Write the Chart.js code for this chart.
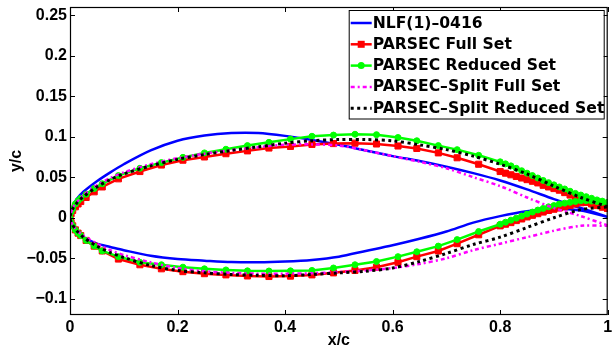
<!DOCTYPE html>
<html>
<head>
<meta charset="utf-8">
<script src="https://cdn.jsdelivr.net/npm/chart.js@4.4.0/dist/chart.umd.min.js"></script>
<style>
html,body{margin:0;padding:0;background:#fff;}
canvas{display:block;}
</style>
</head>
<body>
<canvas id="airfoil" width="613" height="350"></canvas>
<script>
// TICKS
let xTicks = [0, 0.2, 0.4, 0.6, 0.8, 1];
let yTicks = [-0.1, -0.05, 0, 0.05, 0.1, 0.15, 0.2, 0.25];

// LEGEND TEXT
let labels = ['NLF(1)\u20130416', 'PARSEC Full Set', 'PARSEC Reduced Set', 'PARSEC\u2013Split Full Set', 'PARSEC\u2013Split Reduced Set'];

// X STATIONS FOR THE SMOOTH CURVES (NO MARKERS)
let xGrid = [0, 0.005, 0.0125, 0.025, 0.05, 0.075, 0.1, 0.15, 0.2, 0.25, 0.3, 0.35, 0.4, 0.45, 0.5, 0.55, 0.6, 0.65, 0.7, 0.75, 0.8, 0.85, 0.9, 0.95, 1.0];

let nlfUpper = [0, 0.014, 0.023, 0.032, 0.045, 0.056, 0.066, 0.083, 0.095, 0.1015, 0.1045, 0.1045, 0.101, 0.096, 0.090, 0.083, 0.076, 0.070, 0.063, 0.055, 0.046, 0.035, 0.023, 0.012, 0.001];
let nlfLower = [0, -0.010, -0.017, -0.024, -0.032, -0.036, -0.040, -0.047, -0.051, -0.053, -0.0547, -0.055, -0.054, -0.052, -0.048, -0.041, -0.034, -0.026, -0.017, -0.006, 0.002, 0.008, 0.011, 0.009, 0.001];

let splitFullUpper = [0, 0.012, 0.019, 0.028, 0.040, 0.049, 0.056, 0.066, 0.0735, 0.079, 0.0835, 0.087, 0.090, 0.0905, 0.089, 0.083, 0.076, 0.069, 0.061, 0.050, 0.039, 0.025, 0.012, 0.002, -0.0095];
let splitFullLower = [0, -0.009, -0.015, -0.022, -0.032, -0.040, -0.046, -0.055, -0.062, -0.066, -0.068, -0.069, -0.069, -0.0685, -0.067, -0.065, -0.062, -0.057, -0.050, -0.040, -0.032, -0.024, -0.016, -0.010, -0.010];

let splitRedUpper = [0, 0.011, 0.018, 0.026, 0.038, 0.047, 0.054, 0.064, 0.072, 0.078, 0.083, 0.0875, 0.092, 0.095, 0.0965, 0.0965, 0.0948, 0.090, 0.084, 0.076, 0.066, 0.054, 0.039, 0.025, 0.0135];
let splitRedLower = [0, -0.009, -0.016, -0.024, -0.035, -0.043, -0.049, -0.059, -0.065, -0.068, -0.070, -0.071, -0.0715, -0.070, -0.068, -0.066, -0.062, -0.054, -0.044, -0.033, -0.024, -0.012, 0.000, 0.010, 0.0135];

// X STATIONS FOR THE MARKED CURVES
let xMarked = [0, 0.002, 0.005, 0.01, 0.015, 0.02, 0.03, 0.045, 0.06,
  0.09, 0.13, 0.17, 0.21, 0.25, 0.29, 0.33, 0.37, 0.41, 0.45, 0.49, 0.53, 0.57, 0.61, 0.645, 0.685, 0.72, 0.76, 0.80,
  0.81, 0.82, 0.83, 0.84, 0.85, 0.86, 0.87, 0.88, 0.89, 0.90, 0.91, 0.92, 0.93, 0.94, 0.95, 0.96, 0.97, 0.98, 0.99, 1.0];

let fullUpper = [0, 0.005, 0.009, 0.0135, 0.017, 0.020, 0.025, 0.032, 0.038,
  0.048, 0.057, 0.065, 0.071, 0.075, 0.079, 0.0825, 0.086, 0.088, 0.0905, 0.0915, 0.092, 0.091, 0.0885, 0.0855, 0.080, 0.074, 0.066, 0.057,
  0.055, 0.053, 0.051, 0.049, 0.047, 0.045, 0.043, 0.040, 0.038, 0.036, 0.034, 0.031, 0.028, 0.025, 0.022, 0.0197, 0.017, 0.015, 0.013, 0.0115];
let fullLower = [0, -0.006, -0.010, -0.015, -0.019, -0.022, -0.028, -0.035, -0.041,
  -0.051, -0.058, -0.063, -0.0665, -0.069, -0.0705, -0.0718, -0.0725, -0.072, -0.0705, -0.068, -0.065, -0.061, -0.055, -0.048, -0.041, -0.032, -0.021, -0.010,
  -0.008, -0.006, -0.0035, -0.0015, 0.001, 0.003, 0.005, 0.007, 0.009, 0.0105, 0.012, 0.0135, 0.015, 0.017, 0.0185, 0.019, 0.0185, 0.017, 0.0145, 0.0115];

let reducedUpper = [0, 0.007, 0.011, 0.017, 0.021, 0.024, 0.029, 0.036, 0.042,
  0.052, 0.061, 0.068, 0.0745, 0.080, 0.0845, 0.089, 0.093, 0.097, 0.1005, 0.102, 0.103, 0.1025, 0.099, 0.095, 0.089, 0.084, 0.077, 0.069,
  0.0665, 0.064, 0.061, 0.058, 0.055, 0.052, 0.049, 0.046, 0.0433, 0.0406, 0.038, 0.0355, 0.0327, 0.030, 0.028, 0.026, 0.024, 0.022, 0.0205, 0.019];
let reducedLower = [0, -0.006, -0.010, -0.015, -0.019, -0.022, -0.028, -0.035, -0.041,
  -0.048, -0.055, -0.058, -0.061, -0.063, -0.0644, -0.0655, -0.0657, -0.0655, -0.065, -0.062, -0.058, -0.054, -0.048, -0.042, -0.035, -0.027, -0.017, -0.008,
  -0.0055, -0.003, -0.0005, 0.002, 0.0045, 0.007, 0.0095, 0.0115, 0.0135, 0.015, 0.017, 0.018, 0.019, 0.020, 0.021, 0.021, 0.0205, 0.020, 0.019, 0.0185];

// BUILD A CLOSED LOOP : TE -> LE ON UPPER, THEN LE -> TE ON LOWER
function loop(xs, upper, lower){
    let pts = [];
    for(let i = xs.length - 1; i >= 0; i--){
        pts.push({x: xs[i], y: upper[i]});
    }
    for(let i = 1; i < xs.length; i++){
        pts.push({x: xs[i], y: lower[i]});
    }
    return pts;
}

let tickFont = {family: 'Liberation Sans', size: 16, weight: 'bold'};

function fmt(v){
    return String(v).replace('-', '\u2212');
}

// BOX + INWARD TICKS
let axesBox = {
    id: 'axesBox',
    afterDatasetsDraw(chart){
        let ctx = chart.ctx;
        let a = chart.chartArea;
        let sx = chart.scales.x, sy = chart.scales.y;
        ctx.save();
        ctx.strokeStyle = '#000';
        ctx.lineWidth = 1.2;
        ctx.strokeRect(a.left + 0.5, a.top + 0.5, a.right - a.left - 1, a.bottom - a.top - 1);
        ctx.lineWidth = 1;
        ctx.beginPath();
        for(let t of sx.ticks){
            let px = Math.round(sx.getPixelForValue(t.value)) + 0.5;
            ctx.moveTo(px, a.bottom); ctx.lineTo(px, a.bottom - 5);
            ctx.moveTo(px, a.top); ctx.lineTo(px, a.top + 5);
        }
        for(let t of sy.ticks){
            let py = Math.round(sy.getPixelForValue(t.value)) + 0.5;
            ctx.moveTo(a.left, py); ctx.lineTo(a.left + 5, py);
            ctx.moveTo(a.right, py); ctx.lineTo(a.right - 5, py);
        }
        ctx.stroke();
        ctx.restore();
    }
};

// LEGEND WITH A FRAME, INSIDE THE PLOT (TOP RIGHT)
let boxLegend = {
    id: 'boxLegend',
    afterDraw(chart){
        let ctx = chart.ctx;
        let a = chart.chartArea;
        let sets = chart.data.datasets;
        let bw = 255, bh = 108.5;
        let bx = a.right - 4 - bw, by = a.top + 3;
        ctx.save();
        ctx.fillStyle = '#fff';
        ctx.fillRect(bx, by, bw, bh);
        ctx.strokeStyle = '#000';
        ctx.lineWidth = 1;
        ctx.strokeRect(bx + 0.5, by + 0.5, bw, bh);
        ctx.font = 'bold 15.6px "DejaVu Sans"';
        ctx.textBaseline = 'middle';
        for(let i = 0; i < sets.length; i++){
            let ds = sets[i];
            let cy = by + 13 + i * 21.3;
            let x0 = bx + 2, x1 = bx + 23;
            ctx.strokeStyle = ds.borderColor;
            ctx.lineWidth = ds.borderWidth;
            ctx.setLineDash(ds.borderDash || []);
            ctx.beginPath();
            ctx.moveTo(x0, cy); ctx.lineTo(x1, cy);
            ctx.stroke();
            ctx.setLineDash([]);
            let mx = (x0 + x1) / 2;
            ctx.fillStyle = ds.borderColor;
            if(ds.pointStyle === 'rect' && ds.pointRadius > 0){
                ctx.fillRect(mx - 3.5, cy - 3.5, 7, 7);
            } else if(ds.pointStyle === 'circle' && ds.pointRadius > 0){
                ctx.beginPath();
                ctx.arc(mx, cy, 3.5, 0, Math.PI * 2);
                ctx.fill();
            }
            ctx.fillStyle = '#000';
            ctx.fillText(ds.label, x1 + 1, cy + 0.5);
        }
        ctx.restore();
    }
};

let ctx = document.getElementById('airfoil').getContext('2d');

let airfoilChart = new Chart(ctx, {
    type: 'scatter',
    data: {
        datasets: [{
            label: labels[0],
            data: loop(xGrid, nlfUpper, nlfLower),
            showLine: true,
            borderColor: '#0000ff',
            borderWidth: 2.5,
            pointRadius: 0,
            tension: 0.3,
            order: 5
        }, {
            label: labels[1],
            data: loop(xMarked, fullUpper, fullLower),
            showLine: true,
            borderColor: '#ff0000',
            backgroundColor: '#ff0000',
            borderWidth: 2.5,
            pointStyle: 'rect',
            pointRadius: 4.3,
            pointBorderWidth: 1,
            tension: 0,
            order: 4
        }, {
            label: labels[2],
            data: loop(xMarked, reducedUpper, reducedLower),
            showLine: true,
            borderColor: '#00ff00',
            backgroundColor: '#00ff00',
            borderWidth: 2.5,
            pointStyle: 'circle',
            pointRadius: 3,
            pointBorderWidth: 1,
            tension: 0,
            order: 3
        }, {
            label: labels[3],
            data: loop(xGrid, splitFullUpper, splitFullLower),
            showLine: true,
            borderColor: '#ff00ff',
            borderWidth: 2.5,
            borderDash: [4, 3, 2, 3],
            pointRadius: 0,
            tension: 0.3,
            order: 2
        }, {
            label: labels[4],
            data: loop(xGrid, splitRedUpper, splitRedLower),
            showLine: true,
            borderColor: '#000000',
            borderWidth: 3,
            borderDash: [3, 3.5],
            pointRadius: 0,
            tension: 0.3,
            order: 1
        }]
    },
    options: {
        responsive: false,
        animation: false,
        events: [],
        layout: {padding: {top: 7, right: 1, bottom: 0, left: 0}},
        plugins: {
            legend: {display: false},
            tooltip: {enabled: false}
        },
        scales: {
            x: {
                type: 'linear',
                min: 0,
                max: 1,
                afterBuildTicks: s => { s.ticks = xTicks.map(v => ({value: v})); },
                afterFit: s => { s.height = 35; s.paddingLeft = 0; s.paddingRight = 0; },
                grid: {display: false, drawTicks: false},
                border: {display: false},
                ticks: {font: tickFont, color: '#000', padding: 3, maxRotation: 0, autoSkip: false, callback: v => fmt(v)},
                title: {display: true, text: 'x/c', font: tickFont, color: '#000', padding: {top: 0, bottom: 0}}
            },
            y: {
                type: 'linear',
                min: -0.12,
                max: 0.26,
                afterBuildTicks: s => { s.ticks = yTicks.map(v => ({value: v})); },
                afterFit: s => { s.width = 70; s.paddingTop = 0; s.paddingBottom = 0; },
                grid: {display: false, drawTicks: false},
                border: {display: false},
                ticks: {font: tickFont, color: '#000', padding: 3, autoSkip: false, callback: v => fmt(v)},
                title: {display: true, text: 'y/c', font: tickFont, color: '#000', padding: {top: 7, bottom: 0}}
            }
        }
    },
    plugins: [axesBox, boxLegend]
});
</script>
</body>
</html>
